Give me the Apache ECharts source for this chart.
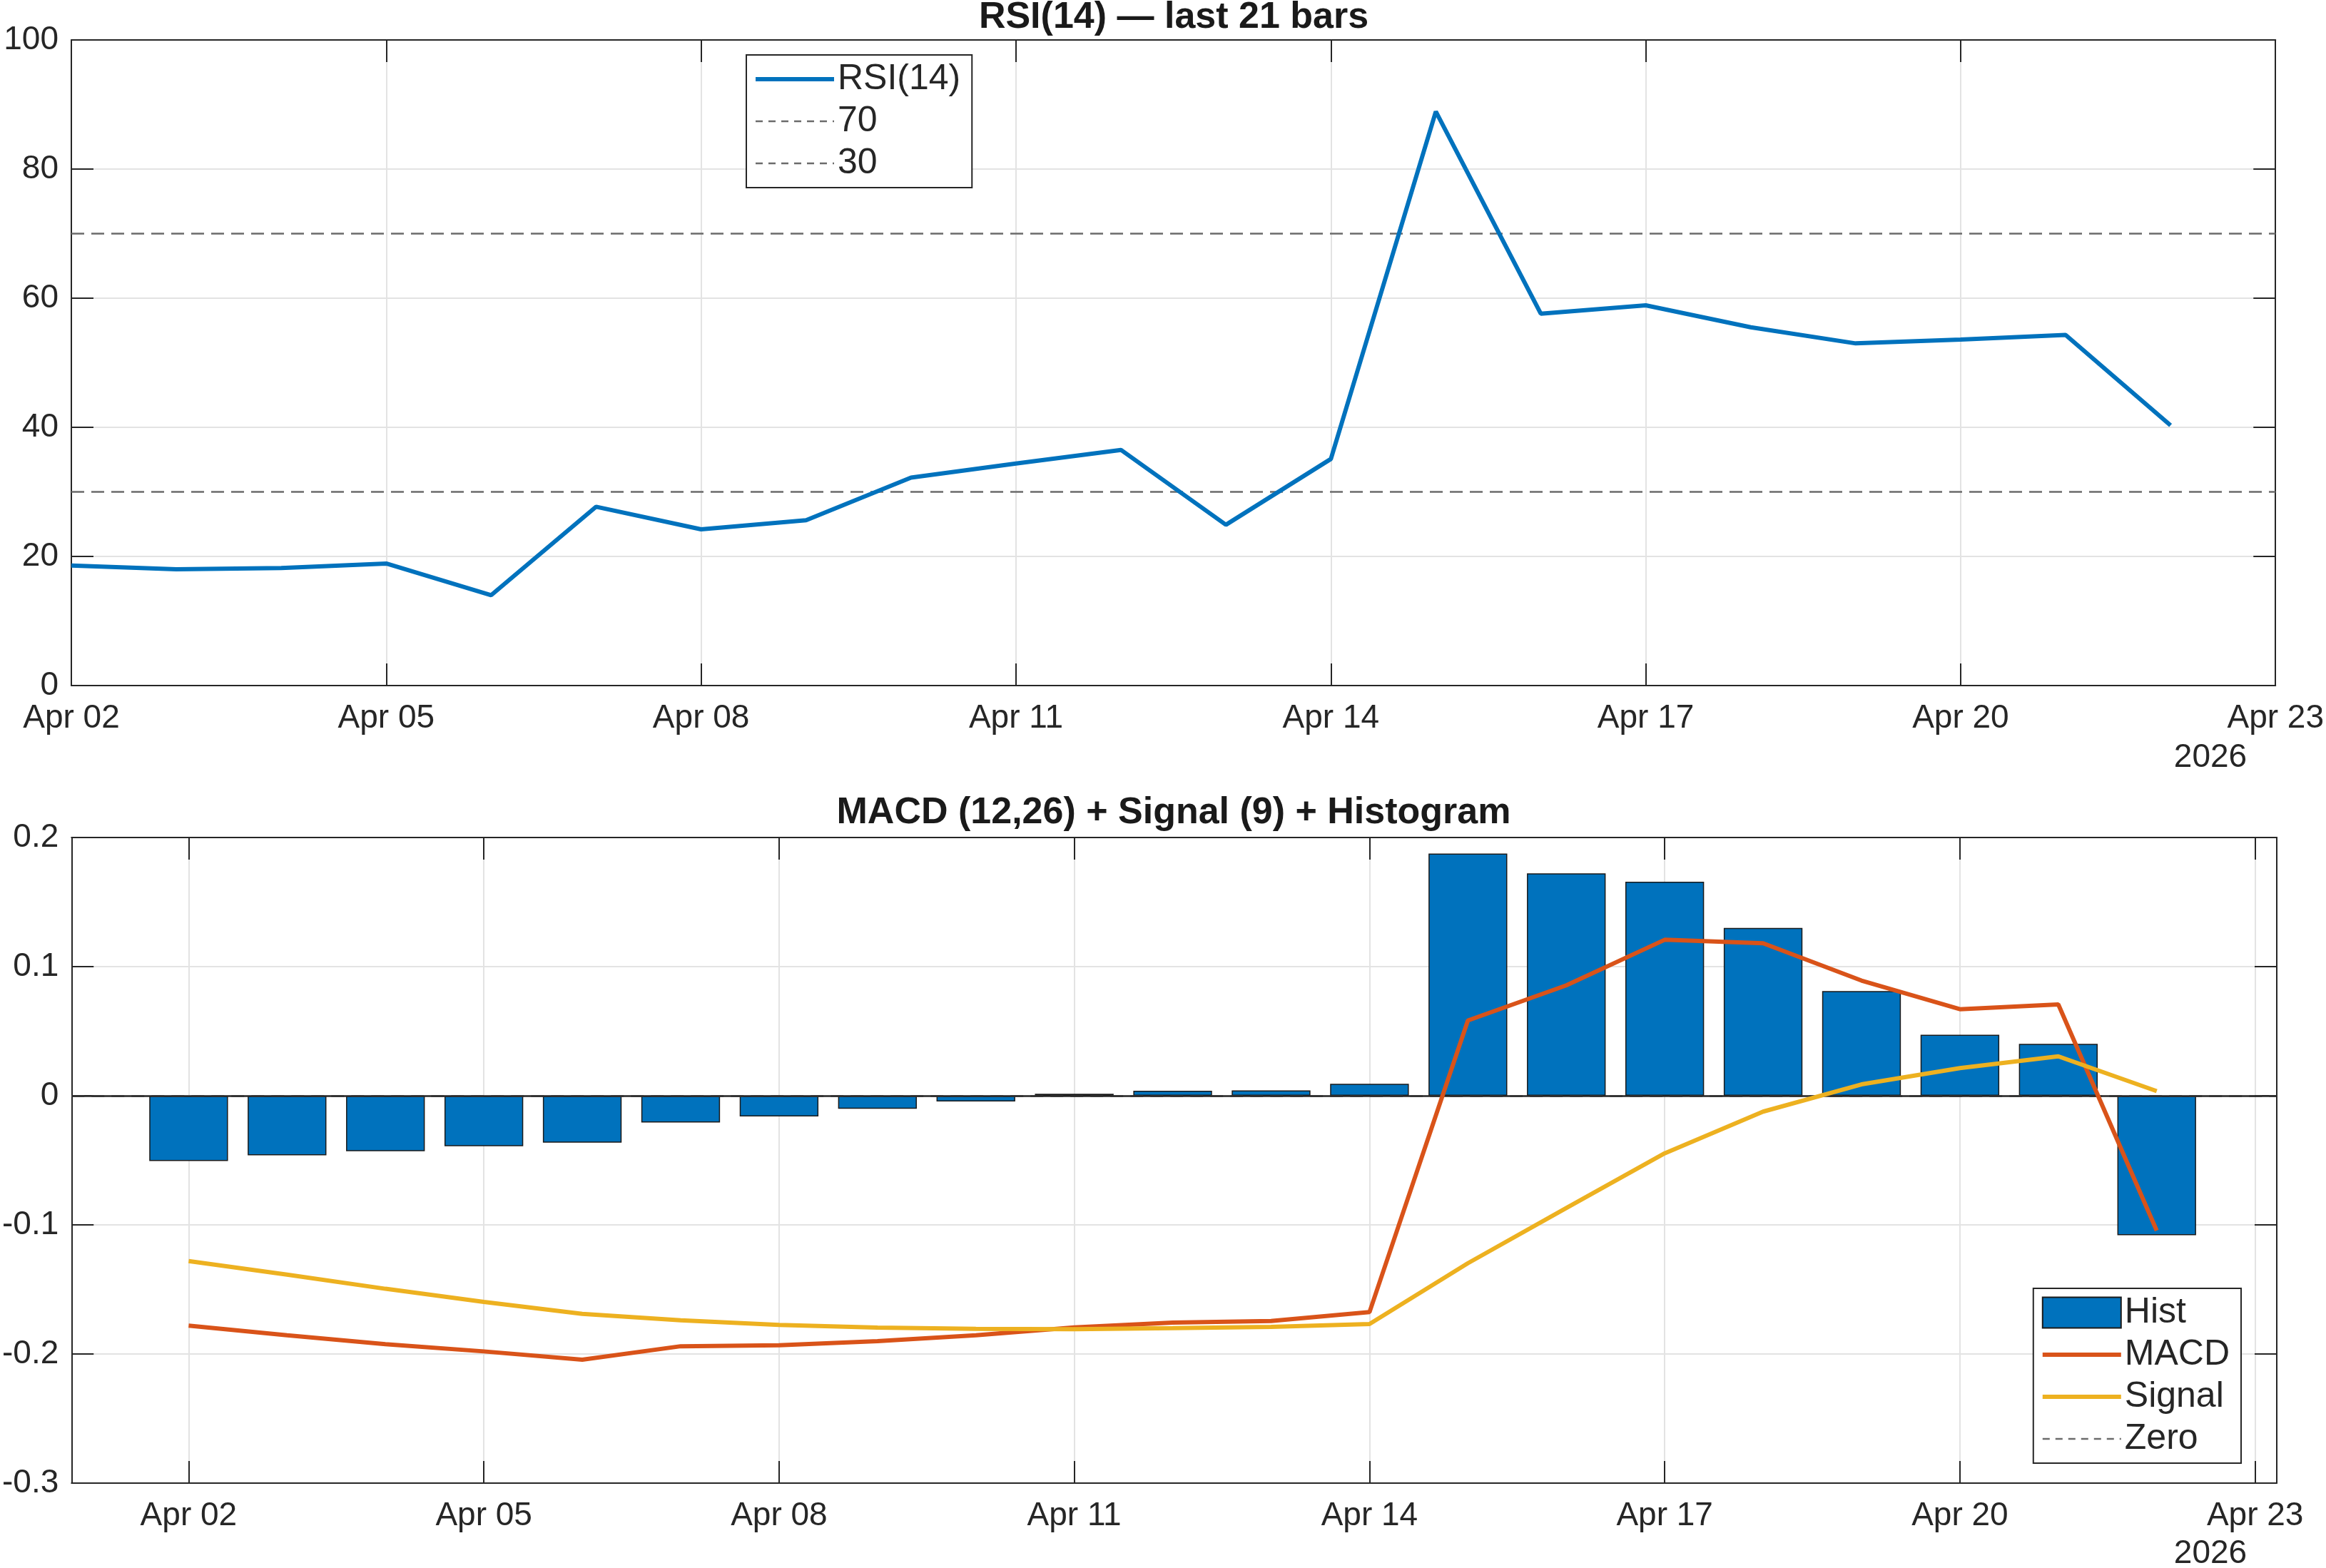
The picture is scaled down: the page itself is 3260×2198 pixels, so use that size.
<!DOCTYPE html>
<html>
<head>
<meta charset="utf-8">
<title>RSI / MACD</title>
<script src="https://cdn.jsdelivr.net/npm/echarts@6/dist/echarts.min.js"></script>
<style>
  html, body { margin: 0; padding: 0; background: #fff; }
  #chart { width: 3260px; height: 2198px; }
</style>
</head>
<body>
<div id="chart"></div>
<script>
// day index 0 = Apr 02 2026, one bar per day up to Apr 22
const tickDays = [0, 3, 6, 9, 12, 15, 18, 21]
const tickLabels = ['Apr 02', 'Apr 05', 'Apr 08', 'Apr 11', 'Apr 14', 'Apr 17', 'Apr 20', 'Apr 23']
const yearLabel = '2026'

const rsiValues = [18.6, 18.0, 18.2, 18.9, 14.0, 27.7, 24.2, 25.6, 32.2, 34.4, 36.5,
  24.9, 35.1, 88.9, 57.6, 58.9, 55.5, 53.0, 53.6, 54.3, 40.3]
const rsiLevels = [70, 30]

const histValues = [-0.0505, -0.0462, -0.0429, -0.0391, -0.0363, -0.0207, -0.0160, -0.0101,
  -0.0044, 0.0015, 0.0038, 0.0042, 0.0092, 0.1876, 0.1722, 0.1657, 0.1300, 0.0811,
  0.0472, 0.0402, -0.1080]
const macdValues = [-0.1780, -0.1855, -0.1924, -0.1980, -0.2044, -0.1940, -0.1932, -0.1900,
  -0.1855, -0.1794, -0.1757, -0.1744, -0.1676, 0.0583, 0.0855, 0.1208, 0.1181, 0.0892,
  0.0670, 0.0707, -0.1044]
const signalValues = [-0.1280, -0.1385, -0.1495, -0.1597, -0.1689, -0.1739, -0.1775, -0.1796,
  -0.1805, -0.1808, -0.1800, -0.1790, -0.1768, -0.1297, -0.0869, -0.0446, -0.0123, 0.0088,
  0.0214, 0.0305, 0.0036]

const FONT = 'Liberation Sans, Arial, Helvetica, sans-serif'
const INK = '#262626'
const GRIDC = '#e3e3e3'
const BLUE = '#0072BD'
const ORANGE = '#D95319'
const YELLOW = '#EDB120'
const DASH = '#6b6b6b'
const LW = 6

const W = 3260
const gridTop = { left: 100, right: 69, top: 56, bottom: 2198 - 961 }
const gridBot = { left: 100, right: 69, top: 1174, bottom: 2198 - 2079 }
const botMin = -1.19
const botMax = 21.22

const pairs = vals => vals.map((v, i) => [i, v])

const xLabelFmt = v => {
  const k = tickDays.indexOf(Math.round(v))
  return k >= 0 ? tickLabels[k] : ''
}

const mainX = (gridIndex, min, max) => ({
  type: 'value', gridIndex, min, max,
  axisLine: { show: true, onZero: false, lineStyle: { color: INK, width: 2 } },
  axisTick: { show: true, inside: true, length: 31, customValues: tickDays, lineStyle: { color: INK, width: 2 } },
  axisLabel: { customValues: tickDays, formatter: xLabelFmt, color: INK, fontSize: 46, fontFamily: FONT, margin: 23 },
  splitLine: { show: true, lineStyle: { color: GRIDC, width: 2 } }
})

const mirrorX = (gridIndex, min, max) => ({
  type: 'value', gridIndex, min, max, position: 'top',
  axisLine: { show: true, onZero: false, lineStyle: { color: INK, width: 2 } },
  axisTick: { show: true, inside: true, length: 31, customValues: tickDays, lineStyle: { color: INK, width: 2 } },
  axisLabel: { show: false },
  splitLine: { show: false }
})

const mainY = (gridIndex, min, max, interval) => ({
  type: 'value', gridIndex, min, max, interval,
  axisLine: { show: true, onZero: false, lineStyle: { color: INK, width: 2 } },
  axisTick: { show: true, inside: true, length: 31, lineStyle: { color: INK, width: 2 } },
  axisLabel: { color: INK, fontSize: 46, fontFamily: FONT, margin: 18 },
  splitLine: { show: true, lineStyle: { color: GRIDC, width: 2 } }
})

const mirrorY = (gridIndex, min, max, interval) => ({
  type: 'value', gridIndex, min, max, interval, position: 'right',
  axisLine: { show: true, onZero: false, lineStyle: { color: INK, width: 2 } },
  axisTick: { show: true, inside: true, length: 31, lineStyle: { color: INK, width: 2 } },
  axisLabel: { show: false },
  splitLine: { show: false }
})

const dashStyle = { color: DASH, width: 2.5, type: [18, 10] }

const levelSeries = (name, value, xAxisIndex, yAxisIndex) => ({
  name, type: 'line', xAxisIndex, yAxisIndex, data: [],
  symbol: 'none',
  lineStyle: dashStyle,
  itemStyle: { color: DASH },
  markLine: {
    silent: true, symbol: ['none', 'none'],
    label: { show: false },
    lineStyle: dashStyle,
    data: [{ yAxis: value }]
  }
})

// legend entries: line sample only, the marker is made transparent
const hiddenMark = { color: 'rgba(0,0,0,0)', borderColor: 'rgba(0,0,0,0)', borderWidth: 0 }
const lineItem = (name, color) => ({ name, itemStyle: hiddenMark, lineStyle: { color, width: LW } })
const dashItem = name => ({ name, itemStyle: hiddenMark, lineStyle: { color: DASH, width: 2.5, type: [10, 8] } })

const legendBase = {
  orient: 'vertical',
  backgroundColor: '#fff',
  borderColor: INK,
  borderWidth: 2,
  borderRadius: 0,
  padding: [9, 16, 9, 10],
  itemWidth: 110,
  itemGap: 9,
  selectedMode: false,
  textStyle: { color: INK, fontSize: 50, fontFamily: FONT, lineHeight: 50 }
}

const botGridWidth = W - gridBot.left - gridBot.right
const barPx = botGridWidth / (botMax - botMin) * 0.8

const option = {
  animation: false,
  backgroundColor: '#fff',
  grid: [gridTop, gridBot],
  xAxis: [mainX(0, 0, 21), mirrorX(0, 0, 21), mainX(1, botMin, botMax), mirrorX(1, botMin, botMax)],
  yAxis: [mainY(0, 0, 100, 20), mirrorY(0, 0, 100, 20), mainY(1, -0.3, 0.2, 0.1), mirrorY(1, -0.3, 0.2, 0.1)],
  legend: [
    Object.assign({}, legendBase, {
      left: 1046, top: 77, itemHeight: 20,
      data: [lineItem('RSI(14)', BLUE), dashItem('70'), dashItem('30')]
    }),
    Object.assign({}, legendBase, {
      right: 119, bottom: 147, itemHeight: 43,
      data: [{ name: 'Hist', icon: 'rect' }, lineItem('MACD', ORANGE), lineItem('Signal', YELLOW), dashItem('Zero')]
    })
  ],
  graphic: [
    { type: 'text', x: 1645, y: 25, style: { text: 'RSI(14) — last 21 bars', fontSize: 52, fontWeight: 'bold', fontFamily: FONT, fill: '#1a1a1a', align: 'center', verticalAlign: 'middle' } },
    { type: 'text', x: 1645, y: 1140, style: { text: 'MACD (12,26) + Signal (9) + Histogram', fontSize: 52, fontWeight: 'bold', fontFamily: FONT, fill: '#1a1a1a', align: 'center', verticalAlign: 'middle' } },
    { type: 'text', x: 3098, y: 1062, style: { text: yearLabel, fontSize: 46, fontFamily: FONT, fill: INK, align: 'center', verticalAlign: 'middle' } },
    { type: 'text', x: 3098, y: 2178, style: { text: yearLabel, fontSize: 46, fontFamily: FONT, fill: INK, align: 'center', verticalAlign: 'middle' } }
  ],
  series: [
    levelSeries('70', rsiLevels[0], 0, 0),
    levelSeries('30', rsiLevels[1], 0, 0),
    {
      name: 'RSI(14)', type: 'line', xAxisIndex: 0, yAxisIndex: 0,
      data: pairs(rsiValues), symbol: 'none', z: 5,
      lineStyle: { color: BLUE, width: LW }, itemStyle: { color: BLUE }
    },
    levelSeries('Zero', 0, 2, 2),
    {
      name: 'Hist', type: 'bar', xAxisIndex: 2, yAxisIndex: 2,
      data: pairs(histValues), barWidth: barPx,
      itemStyle: { color: BLUE, borderColor: '#1a1a1a', borderWidth: 1.5 },
      markLine: {
        silent: true, symbol: ['none', 'none'], label: { show: false },
        lineStyle: { color: INK, width: 2.5, type: 'solid' },
        data: [{ yAxis: 0 }]
      }
    },
    {
      name: 'MACD', type: 'line', xAxisIndex: 2, yAxisIndex: 2,
      data: pairs(macdValues), symbol: 'none', z: 5,
      lineStyle: { color: ORANGE, width: LW }, itemStyle: { color: ORANGE }
    },
    {
      name: 'Signal', type: 'line', xAxisIndex: 2, yAxisIndex: 2,
      data: pairs(signalValues), symbol: 'none', z: 5,
      lineStyle: { color: YELLOW, width: LW }, itemStyle: { color: YELLOW }
    }
  ]
}

const chart = echarts.init(document.getElementById('chart'), null, { renderer: 'canvas' })
chart.setOption(option)
</script>
</body>
</html>
